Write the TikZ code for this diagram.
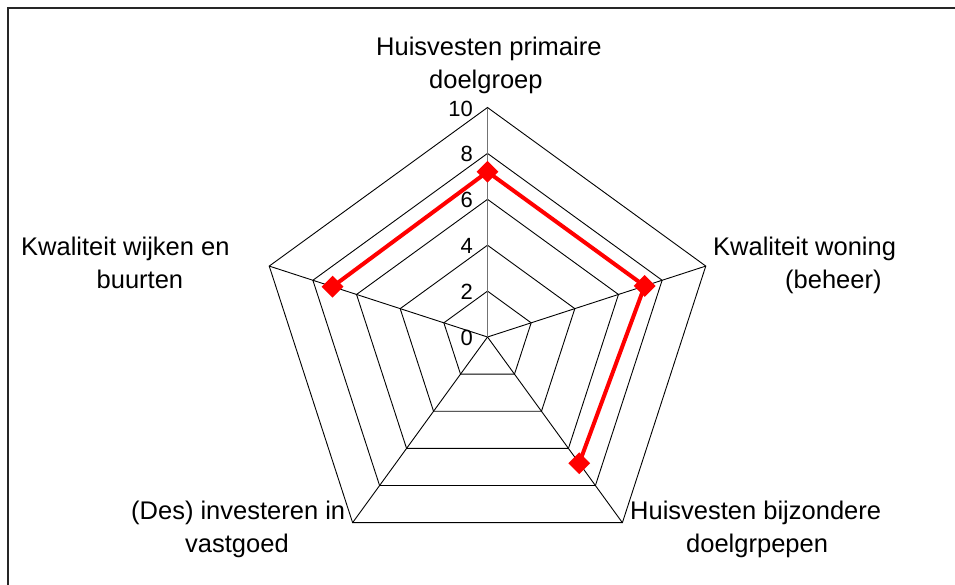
\documentclass[tikz,border=0pt]{standalone}
\usepackage{fontspec}
\setmainfont{Liberation Sans}
\usetikzlibrary{shapes.geometric}
\begin{document}
\begin{tikzpicture}[x=1pt,y=-1pt,
  gridline/.style={black,line width=0.9pt,line join=miter},
  valaxis/.style={black!55,line width=1.1pt},
  dataline/.style={red,line width=4pt,line join=miter},
  marker/.style={shape=diamond,fill=red,draw=none,minimum width=22pt,minimum height=22pt,inner sep=0pt},
  catlabel/.style={font=\fontsize{25.5}{32.6}\selectfont,align=left,inner sep=0pt,anchor=base west},
  ticklabel/.style={font=\fontsize{22}{24}\selectfont,inner sep=0pt,anchor=east},
  frame/.style={black!85,line width=1.6pt}]
\useasboundingbox (0,0) rectangle (955,584);
\clip (0,0) rectangle (955,584);
\def\pcx{487.5}
\def\pcy{337}
\def\pu{22.95}
% frame (clipped at right and bottom)
\draw[frame] (8,600) -- (8,8) -- (970,8);
% grid pentagons
\foreach \k in {2,4,6,8,10}{
  \draw[gridline] ({\pcx+\k*\pu*cos(90)},{\pcy-\k*\pu*sin(90)})
    -- ({\pcx+\k*\pu*cos(18)},{\pcy-\k*\pu*sin(18)})
    -- ({\pcx+\k*\pu*cos(-54)},{\pcy-\k*\pu*sin(-54)})
    -- ({\pcx+\k*\pu*cos(-126)},{\pcy-\k*\pu*sin(-126)})
    -- ({\pcx+\k*\pu*cos(162)},{\pcy-\k*\pu*sin(162)}) -- cycle;
}
% spokes
\coordinate (c) at (\pcx,\pcy);
\coordinate (v1) at ({\pcx+10*\pu*cos(90)},{\pcy-10*\pu*sin(90)});
\coordinate (v2) at ({\pcx+10*\pu*cos(18)},{\pcy-10*\pu*sin(18)});
\coordinate (v3) at ({\pcx+10*\pu*cos(-54)},{\pcy-10*\pu*sin(-54)});
\coordinate (v4) at ({\pcx+10*\pu*cos(-126)},{\pcy-10*\pu*sin(-126)});
\coordinate (v5) at ({\pcx+10*\pu*cos(162)},{\pcy-10*\pu*sin(162)});
\draw[gridline] (c) -- (v2);
\draw[gridline] (c) -- (v3);
\draw[gridline] (c) -- (v4);
\draw[gridline] (c) -- (v5);
\draw[valaxis] (c) -- (v1);
% tick labels
\foreach \k in {0,2,4,6,8,10}{
  \node[ticklabel] (t\k) at (473,{\pcy-\k*\pu+1}) {\k};
}
% data
\coordinate (p1) at ({\pcx+7.2*\pu*cos(90)},{\pcy-7.2*\pu*sin(90)});
\coordinate (p2) at ({\pcx+7.2*\pu*cos(18)},{\pcy-7.2*\pu*sin(18)});
\coordinate (p3) at ({\pcx+6.8*\pu*cos(-54)},{\pcy-6.8*\pu*sin(-54)});
\coordinate (p5) at ({\pcx+7.1*\pu*cos(162)},{\pcy-7.1*\pu*sin(162)});
\draw[dataline] (p5) -- (p1) -- (p2) -- (p3);
\node[marker] (m1) at (p1) {};
\node[marker] (m2) at (p2) {};
\node[marker] (m3) at (p3) {};
\node[marker] (m5) at (p5) {};
% category labels (base = baseline of last line)
\node[catlabel] (l1) at (376,88.1) {Huisvesten primaire\\\hspace*{53pt}doelgroep};
\node[catlabel] (l2) at (713,288.1) {Kwaliteit woning\\\hspace*{72pt}(beheer)};
\node[catlabel] (l3) at (630,552.1) {Huisvesten bijzondere\\\hspace*{56pt}doelgrpepen};
\node[catlabel] (l4) at (131,552.1) {(Des) investeren in\\\hspace*{54pt}vastgoed};
\node[catlabel] (l5) at (21,288.1) {Kwaliteit wijken en\\\hspace*{75.5pt}buurten};
\end{tikzpicture}
\end{document}
